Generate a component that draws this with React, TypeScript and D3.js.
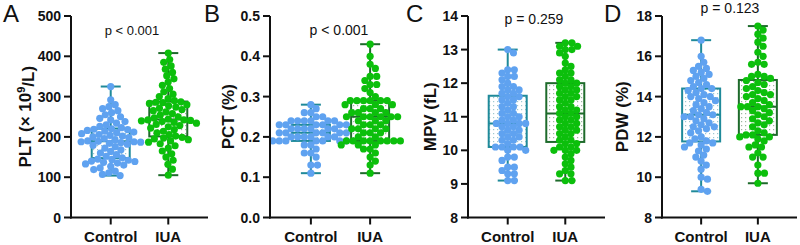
import React from "react";
import * as d3 from "d3";

const categories = ["Control", "IUA"];

const pltControl = [104, 107, 111, 115, 119, 123, 127, 130, 133, 135, 137, 139, 140, 142, 144, 145,
  148, 152, 156, 160, 164, 168, 172, 176, 179, 182, 184, 186, 187, 188, 188, 189,
  190, 193, 196, 198, 200, 202, 204, 206, 208, 210, 212, 214, 216, 218, 219, 220,
  223, 226, 230, 234, 238, 242, 246, 250, 255, 260, 265, 270, 275, 280, 292, 325];
const pltIUA = [105, 120, 132, 142, 150, 158, 165, 172, 178, 183, 187, 190, 193, 195, 197, 199,
  202, 206, 210, 214, 218, 222, 225, 228, 231, 234, 236, 238, 240, 241, 242, 242,
  244, 247, 250, 254, 258, 262, 265, 268, 271, 274, 277, 280, 283, 285, 286, 287,
  290, 295, 300, 306, 312, 320, 328, 336, 344, 352, 360, 368, 376, 385, 392, 408];

const pctControl = [0.11, 0.13, 0.13, 0.15, 0.16, 0.16, 0.17, 0.18, 0.18,
  0.19, 0.19, 0.19, 0.19, 0.19, 0.19, 0.19,
  0.20, 0.20, 0.20, 0.20, 0.20, 0.20,
  0.21, 0.21, 0.21, 0.21, 0.21, 0.21,
  0.22, 0.22, 0.22, 0.22, 0.22, 0.22,
  0.23, 0.23, 0.23, 0.23, 0.23, 0.23,
  0.24, 0.24, 0.24, 0.24, 0.24, 0.24,
  0.25, 0.25, 0.26, 0.26, 0.27, 0.28];
const pctIUA = [0.11, 0.13, 0.14, 0.15, 0.16, 0.17, 0.17, 0.18, 0.18, 0.18,
  0.19, 0.19, 0.19, 0.19, 0.19, 0.19, 0.19, 0.19,
  0.20, 0.20, 0.21, 0.21, 0.21, 0.22, 0.22, 0.22, 0.22,
  0.23, 0.23, 0.23, 0.24, 0.24, 0.24,
  0.25, 0.25, 0.25, 0.25, 0.25, 0.25,
  0.26, 0.26, 0.26, 0.26, 0.27, 0.27, 0.27, 0.28, 0.28, 0.28,
  0.29, 0.29, 0.29, 0.29, 0.29, 0.29,
  0.30, 0.31, 0.32, 0.33, 0.33, 0.34, 0.35, 0.35, 0.37, 0.38, 0.40, 0.43];

const mpvControl = [9.1, 9.1, 9.3, 9.3, 9.4, 9.5, 9.5, 9.7, 9.8, 9.8, 10.0, 10.0, 10.1, 10.1, 10.1, 10.1,
  10.2, 10.3, 10.3, 10.4, 10.4, 10.5, 10.5, 10.6, 10.6, 10.7, 10.7, 10.8, 10.8, 10.8, 10.8,
  10.9, 10.9, 11.0, 11.0, 11.1, 11.1, 11.2, 11.3, 11.3, 11.4, 11.5, 11.5, 11.6, 11.6, 11.7, 11.7,
  11.8, 11.8, 11.9, 11.9, 12.0, 12.1, 12.2, 12.2, 12.3, 12.4, 12.4, 12.9, 13.0];
const mpvIUA = [9.1, 9.1, 9.3, 9.3, 9.4, 9.5, 9.6, 9.7, 9.8, 9.9, 10.0, 10.0, 10.0, 10.1, 10.1, 10.2, 10.2,
  10.3, 10.3, 10.4, 10.5, 10.5, 10.6, 10.6, 10.7, 10.7, 10.8, 10.8, 10.9, 10.9, 11.0, 11.0, 11.1, 11.1,
  11.2, 11.2, 11.3, 11.3, 11.4, 11.5, 11.5, 11.6, 11.6, 11.7, 11.7, 11.8, 11.8, 11.9, 11.9, 12.0, 12.0,
  12.1, 12.1, 12.2, 12.3, 12.3, 12.4, 12.5, 12.6, 12.8, 12.9, 13.0, 13.0, 13.1, 13.1, 13.2, 13.2];

const pdwControl = [9.3, 9.4, 9.9, 10.0, 10.4, 10.6, 10.8, 11.0, 11.1, 11.3, 11.4, 11.5, 11.6, 11.7, 11.7, 11.8,
  11.9, 12.0, 12.2, 12.3, 12.4, 12.5, 12.5, 12.6, 12.7, 12.8, 12.9, 13.0, 13.0, 13.1, 13.1,
  13.2, 13.3, 13.4, 13.5, 13.6, 13.7, 13.8, 13.9, 14.0, 14.0, 14.1, 14.2, 14.3, 14.4, 14.4,
  14.5, 14.6, 14.7, 14.8, 14.9, 15.0, 15.1, 15.2, 15.3, 15.4, 15.5, 15.7, 16.0, 16.8];
const pdwIUA = [9.7, 10.2, 10.2, 10.6, 11.0, 11.0, 11.2, 11.5, 11.5, 11.6, 11.8, 11.9, 12.0, 12.0, 12.1, 12.1,
  12.2, 12.3, 12.5, 12.6, 12.7, 12.8, 12.9, 13.0, 13.1, 13.2, 13.3, 13.4, 13.5, 13.5, 13.5,
  13.6, 13.7, 13.8, 13.9, 14.0, 14.1, 14.1, 14.2, 14.3, 14.4, 14.5, 14.6, 14.7, 14.8, 14.9,
  15.0, 15.0, 15.1, 15.6, 15.6, 15.7, 16.0, 16.2, 16.5, 16.7, 16.9, 17.1, 17.3, 17.5];

const pltTicks = [0, 100, 200, 300, 400, 500];
const pctTicks = [0.0, 0.1, 0.2, 0.3, 0.4, 0.5];
const mpvTicks = [8, 9, 10, 11, 12, 13, 14];
const pdwTicks = [8, 10, 12, 14, 16, 18];

const panelLetters = ["A", "B", "C", "D"];
const pValues = ["p < 0.001", "p < 0.001", "p = 0.259", "p = 0.123"];

const FONT = "Arial, 'Liberation Sans', Helvetica, sans-serif";
const ptColor = ["#5FA2F0", "#0CBF0C"];
const boxColor = ["#1F8A9A", "#1E6B2B"];
const dotColor = ["#9CC7CF", "#9DB6A0"];

const panels = [
  { data: [pltControl, pltIUA], ticks: pltTicks, fmt: (v: number) => String(v), label: "PLT", axisX: 71, axisEnd: 208, labelX: 25, letterX: 3, pX: 132, pY: 35, pSize: 13 },
  { data: [pctControl, pctIUA], ticks: pctTicks, fmt: (v: number) => v.toFixed(1), label: "PCT (%)", axisX: 270, axisEnd: 411, labelX: 228, letterX: 204, pX: 339, pY: 35, pSize: 14 },
  { data: [mpvControl, mpvIUA], ticks: mpvTicks, fmt: (v: number) => String(v), label: "MPV (fL)", axisX: 468, axisEnd: 605, labelX: 430, letterX: 406, pX: 534, pY: 24, pSize: 14 },
  { data: [pdwControl, pdwIUA], ticks: pdwTicks, fmt: (v: number) => String(v), label: "PDW (%)", axisX: 662, axisEnd: 797, labelX: 622, letterX: 604, pX: 730, pY: 13, pSize: 14 },
];

const Y_TOP = 16;
const Y_BOT = 217.5;
const R = 3.6;
const MIN_D = 6.6;

function swarm(values: number[], y: (v: number) => number) {
  const pts = values.map((v) => ({ v, y: y(v), x: 0 })).sort((a, b) => a.y - b.y);
  const placed: { v: number; y: number; x: number }[] = [];
  for (const p of pts) {
    const cands = [0];
    for (const q of placed) {
      const dy = Math.abs(q.y - p.y);
      if (dy < MIN_D) {
        const dx = Math.sqrt(MIN_D * MIN_D - dy * dy);
        cands.push(q.x + dx, q.x - dx);
      }
    }
    cands.sort((a, b) => Math.abs(a) - Math.abs(b) || b - a);
    for (const c of cands) {
      if (placed.every((q) => (q.x - c) ** 2 + (q.y - p.y) ** 2 >= MIN_D * MIN_D - 0.01)) {
        p.x = c;
        break;
      }
    }
    placed.push(p);
  }
  return placed;
}

function Panel({ cfg, idx }: { cfg: any; idx: number }) {
  const ticks: number[] = cfg.ticks;
  const y = d3.scaleLinear().domain([ticks[0], ticks[ticks.length - 1]]).range([Y_BOT, Y_TOP]);
  const x = d3.scalePoint<string>().domain(categories).range([cfg.axisX, cfg.axisEnd]).padding(0.69);
  const yMid = (Y_TOP + Y_BOT) / 2;
  return (
    <g>
      <text x={cfg.letterX} y={22} fontSize={24} fontFamily={FONT} fill="#111">{panelLetters[idx]}</text>
      <text x={cfg.pX} y={cfg.pY} fontSize={cfg.pSize} fontFamily={FONT} textAnchor="middle" fill="#111">{pValues[idx]}</text>
      <text transform={`translate(${cfg.labelX},${yMid}) rotate(-90)`} dy="0.36em" textAnchor="middle" fontSize={17} fontWeight="bold" fontFamily={FONT} fill="#111">
        {idx === 0 ? (
          <>
            <tspan>PLT (× 10</tspan>
            <tspan fontSize={11} dy="-0.55em">9</tspan>
            <tspan dy="0.55em">/L)</tspan>
          </>
        ) : cfg.label}
      </text>
      {categories.map((c, ci) => {
        const vals = [...cfg.data[ci]].sort((a: number, b: number) => a - b);
        const q1 = d3.quantile(vals, 0.25)!;
        const med = d3.quantile(vals, 0.5)!;
        const q3 = d3.quantile(vals, 0.75)!;
        const mn = d3.min(vals)!;
        const mx = d3.max(vals)!;
        const cx = x(c)!;
        const bw = 38;
        const cw = 20;
        const pts = swarm(cfg.data[ci], y);
        return (
          <g key={c}>
            <line x1={cx} x2={cx} y1={y(mx)} y2={y(q3)} stroke={boxColor[ci]} strokeWidth={2} />
            <line x1={cx} x2={cx} y1={y(q1)} y2={y(mn)} stroke={boxColor[ci]} strokeWidth={2} />
            <line x1={cx - cw / 2} x2={cx + cw / 2} y1={y(mx)} y2={y(mx)} stroke={boxColor[ci]} strokeWidth={2} />
            <line x1={cx - cw / 2} x2={cx + cw / 2} y1={y(mn)} y2={y(mn)} stroke={boxColor[ci]} strokeWidth={2} />
            <rect x={cx - bw / 2} y={y(q3)} width={bw} height={y(q1) - y(q3)} fill={`url(#dots${ci})`} stroke={boxColor[ci]} strokeWidth={2} />
            <line x1={cx - bw / 2} x2={cx + bw / 2} y1={y(med)} y2={y(med)} stroke={boxColor[ci]} strokeWidth={2} />
            {pts.map((p, i) => (
              <circle key={i} cx={cx + p.x} cy={p.y} r={R} fill={ptColor[ci]} />
            ))}
          </g>
        );
      })}
      <line x1={cfg.axisX} x2={cfg.axisX} y1={Y_TOP} y2={Y_BOT + 1} stroke="#111" strokeWidth={2} />
      <line x1={cfg.axisX - 1} x2={cfg.axisEnd} y1={Y_BOT} y2={Y_BOT} stroke="#111" strokeWidth={2} />
      {ticks.map((t) => (
        <g key={t}>
          <line x1={cfg.axisX - 7} x2={cfg.axisX} y1={y(t)} y2={y(t)} stroke="#111" strokeWidth={2} />
          <text x={cfg.axisX - 10} y={y(t)} dy="0.36em" textAnchor="end" fontSize={14} fontWeight="bold" fontFamily={FONT} fill="#111">{cfg.fmt(t)}</text>
        </g>
      ))}
      {categories.map((c) => (
        <g key={c}>
          <line x1={x(c)!} x2={x(c)!} y1={Y_BOT} y2={Y_BOT + 7} stroke="#111" strokeWidth={2} />
          <text x={x(c)!} y={242} textAnchor="middle" fontSize={15} fontWeight="bold" fontFamily={FONT} fill="#111">{c}</text>
        </g>
      ))}
    </g>
  );
}

export default function App() {
  return (
    <svg width={800} height={245} style={{ position: "absolute", left: 0, top: 0, background: "#fff" }}>
      <defs>
        {dotColor.map((dc, i) => (
          <pattern key={i} id={`dots${i}`} width={4} height={4} patternUnits="userSpaceOnUse">
            <rect width={4} height={4} fill="#fff" />
            <rect x={1} y={1} width={1.2} height={1.2} fill={dc} />
          </pattern>
        ))}
      </defs>
      <rect width={800} height={245} fill="#fff" />
      {panels.map((p, i) => (
        <Panel key={i} cfg={p} idx={i} />
      ))}
    </svg>
  );
}
